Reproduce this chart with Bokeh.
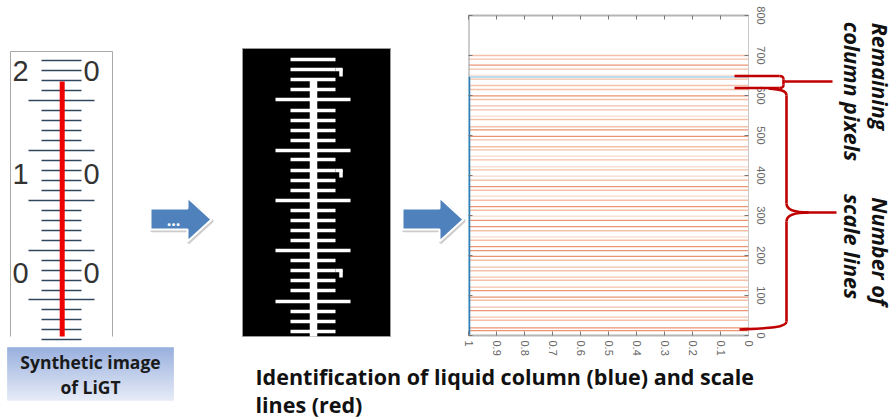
import numpy as np
from bokeh.embed import file_html
from bokeh.resources import INLINE
from bokeh.plotting import figure
from bokeh.models import Range1d, LinearAxis, FixedTicker
from bokeh.core.properties import value

# ---- data -------------------------------------------------------------
x_ticks = [0, 0.1, 0.2, 0.3, 0.4, 0.5, 0.6, 0.7, 0.8, 0.9, 1]
x_labels = ["0", "0.1", "0.2", "0.3", "0.4", "0.5", "0.6", "0.7", "0.8", "0.9", "1"]
y_ticks = [0, 100, 200, 300, 400, 500, 600, 700, 800]
scale_strong = [676, 599, 514, 498, 372, 322, 288, 272, 222, 212, 198, 112, 96, 62, 19, 12]
scale_normal = [700, 691, 666, 641, 625, 615, 590, 574, 564, 540, 522, 489, 472, 464, 439, 414, 388,
                363, 338, 313, 262, 238, 188, 171, 162, 146, 138, 121, 88, 71, 46, 38]
scale_faint = [650, 548, 448, 422, 398, 348, 298, 246]
liquid_row = 646
# thermometer
ligt_short = [60, 70, 80, 90, 110, 120, 130, 140, 160, 170, 180, 190, 210, 220, 230, 240,
              260, 270, 280, 290, 309, 319, 329, 339]
ligt_long = [100, 150, 200, 250, 299]
digit_text = ["2", "0", "1", "0", "0", "0"]
digit_x = [20, 91, 20, 91, 20, 91]
digit_y = [70, 70, 173, 173, 272, 272]
# binary image
bin_short = [59, 69, 79, 89, 110, 120, 130, 140, 159, 170, 180, 190, 210, 220, 230, 240,
             260, 270, 280, 290, 311, 321, 331, 341]
bin_long = [99, 150, 200, 250, 301]
bin_hooks = [69, 170, 270]

# ---- chart -------------------------------------------------------------
W, H = 895, 419
chart = figure(width=W, height=H, toolbar_location=None, output_backend="svg",
               x_range=Range1d(1, 0), y_range=Range1d(0, 800), y_axis_location="right",
               min_border_left=468, min_border_right=147, min_border_top=15, min_border_bottom=84,
               styles={"position": "absolute", "left": "0px", "top": "0px"})
chart.grid.visible = False
chart.outline_line_color = None

def style_axis(ax, ticks, labels=True, color="#b5b5b5", width=2):
    ax.ticker = FixedTicker(ticks=ticks)
    ax.axis_line_color = color
    ax.axis_line_width = width
    ax.major_tick_line_color = "#777777"
    ax.major_tick_in = 4
    ax.major_tick_out = 0
    ax.minor_tick_line_color = None
    if not labels:
        ax.major_label_text_font_size = "0px"
        ax.major_label_text_color = None
    else:
        ax.major_label_text_font = "Liberation Sans"
        ax.major_label_text_font_size = "11px"
        ax.major_label_text_color = "#666666"
        ax.major_label_orientation = "vertical"

top = LinearAxis(); left = LinearAxis()
chart.add_layout(top, "above"); chart.add_layout(left, "left")
style_axis(chart.below[0], x_ticks)
chart.below[0].major_label_overrides = dict(zip(x_ticks, x_labels))
chart.below[0].major_label_standoff = 5
style_axis(chart.right[0], y_ticks, color="#c8c8c8", width=1)
chart.right[0].major_label_standoff = 8
style_axis(top, x_ticks, labels=False)
style_axis(left, y_ticks, labels=False, color=None, width=1)

for rows, col, w in ((scale_faint, "#fae0d4", 1.5), (scale_normal, "#f5bfa8", 1.4), (scale_strong, "#ec9472", 1.2)):
    chart.segment(x0=[1] * len(rows), x1=[0] * len(rows), y0=rows, y1=rows, line_color=col, line_width=w)
chart.segment(x0=[1], x1=[0], y0=[liquid_row], y1=[liquid_row], line_color="#bcdcf0", line_width=2)
chart.segment(x0=[1], x1=[1], y0=[liquid_row], y1=[800], line_color="#999999", line_width=2)
chart.segment(x0=[1], x1=[1], y0=[0], y1=[liquid_row], line_color="#2f7fb5", line_width=3.5)

# ---- diagram ------------------------------------------------------------
p = figure(width=W, height=H, toolbar_location=None, output_backend="svg",
           x_range=Range1d(0, W), y_range=Range1d(H, 0), x_axis_location=None, y_axis_location=None,
           min_border=0, background_fill_alpha=0, border_fill_alpha=0,
           styles={"position": "absolute", "left": "0px", "top": "0px"})
p.grid.visible = False
p.outline_line_color = None

# thermometer
p.multi_line([[10, 10, 112, 112]], [[336, 51, 51, 336]], line_color="#a8a8a8", line_width=1)
p.segment(x0=[41] * len(ligt_short), x1=[81] * len(ligt_short), y0=ligt_short, y1=ligt_short,
          line_color="#30475f", line_width=1.3)
p.segment(x0=[28] * len(ligt_long), x1=[94] * len(ligt_long), y0=ligt_long, y1=ligt_long,
          line_color="#30475f", line_width=1.3)
p.segment(x0=[61.7], x1=[61.7], y0=[81], y1=[336], line_color="#ee0000", line_width=5)
p.text(digit_x, digit_y, text=digit_text, text_font=value("Liberation Sans"), text_font_size="29px",
       text_color="#333333", text_align="center", text_baseline="middle")

# caption box
n = 53
c0 = np.array([0x92, 0xab, 0xdc]); c1 = np.array([0xe4, 0xea, 0xf6])
ys = np.linspace(347, 400, n + 1)
cols = ["#%02x%02x%02x" % tuple(int(v) for v in c0 + (c1 - c0) * i / (n - 1)) for i in range(n)]
p.quad(left=[7] * n, right=[173] * n, top=ys[:-1], bottom=ys[1:], fill_color=cols, line_color=cols, line_width=0.5)
p.text([90, 90], [361, 386], text=["Synthetic image", "of LiGT"], text_font=value("Open Sans"),
       text_font_style="bold", text_font_size="17.5px", text_color="#1a1a1a",
       text_align="center", text_baseline="middle")

# arrows
def arrow(x0):
    xs = [x0 + 2, x0 + 39, x0 + 39, x0 + 63, x0 + 39, x0 + 39, x0 + 2]
    yy = [208, 208, 197, 219, 241, 229, 229]
    p.patch([v + 1 for v in xs], [v + 1.5 for v in yy], fill_color="#cccccc", fill_alpha=0.6, line_color="#cccccc", line_width=2.5)
    p.patch(xs, yy, fill_color="#4f81bd", line_color="#ffffff", line_width=2)
arrow(148)
arrow(400)
p.text([173], [219], text=["..."], text_font=value("Open Sans"), text_font_style="bold",
       text_font_size="16px", text_color="#ffffff", text_align="center", text_baseline="middle")

# binary image
p.quad(left=[242], right=[390], top=[48], bottom=[336], fill_color="#000000", line_color="#999999", line_width=1)
p.segment(x0=[290] * len(bin_short), x1=[335] * len(bin_short), y0=bin_short, y1=bin_short,
          line_color="#ffffff", line_width=3.5)
p.segment(x0=[275] * len(bin_long), x1=[350] * len(bin_long), y0=bin_long, y1=bin_long,
          line_color="#ffffff", line_width=3.5)
p.segment(x0=[335] * 3, x1=[342] * 3, y0=bin_hooks, y1=bin_hooks, line_color="#ffffff", line_width=3.5)
p.segment(x0=[340.5] * 3, x1=[340.5] * 3, y0=[h - 1 for h in bin_hooks], y1=[h + 7 for h in bin_hooks],
          line_color="#ffffff", line_width=3.5)
p.segment(x0=[313], x1=[313], y0=[80], y1=[336], line_color="#ffffff", line_width=7.5)

# brackets
red = "#c00000"
p.multi_line([[734, 779], [734, 779], [783, 783], [784, 832]], [[75.5, 75.5], [87.5, 87.5], [79, 84], [81, 81]],
             line_color=red, line_width=2.6)
p.bezier(x0=[779, 779], y0=[75.5, 87.5], x1=[783, 783], y1=[79, 84], cx0=[782, 782], cy0=[75.5, 87.5],
         cx1=[783, 783], cy1=[76, 87], line_color=red, line_width=2.6)
p.bezier(x0=[768, 786, 786, 786], y0=[88, 203, 221, 321], x1=[786, 808, 808, 739], y1=[95, 212, 212, 329],
         cx0=[780, 786, 786, 786], cy0=[89, 210, 214, 328], cx1=[786, 796, 796, 760], cy1=[90, 212, 212, 328],
         line_color=red, line_width=2.6)
p.segment(x0=[786, 786, 806], x1=[786, 786, 836], y0=[95, 221, 212], y1=[203, 321, 212], line_color=red, line_width=2.6)

# texts
p.text([880, 852, 880, 852], [76, 91, 251, 246],
       text=["Remaining", "column pixels", "Number of", "scale lines"],
       text_font=value("Open Sans"), text_font_style="bold italic", text_font_size="21.5px",
       text_color="#111111", text_align="center", text_baseline="middle", angle=-np.pi / 2)
p.text([255, 255], [376, 404], text=["Identification of liquid column (blue) and scale", "lines (red)"],
       text_font=value("Open Sans"), text_font_style="bold", text_font_size="21.5px",
       text_color="#111111", text_align="left", text_baseline="middle")

open("out.html", "w").write(file_html([chart, p], INLINE))
